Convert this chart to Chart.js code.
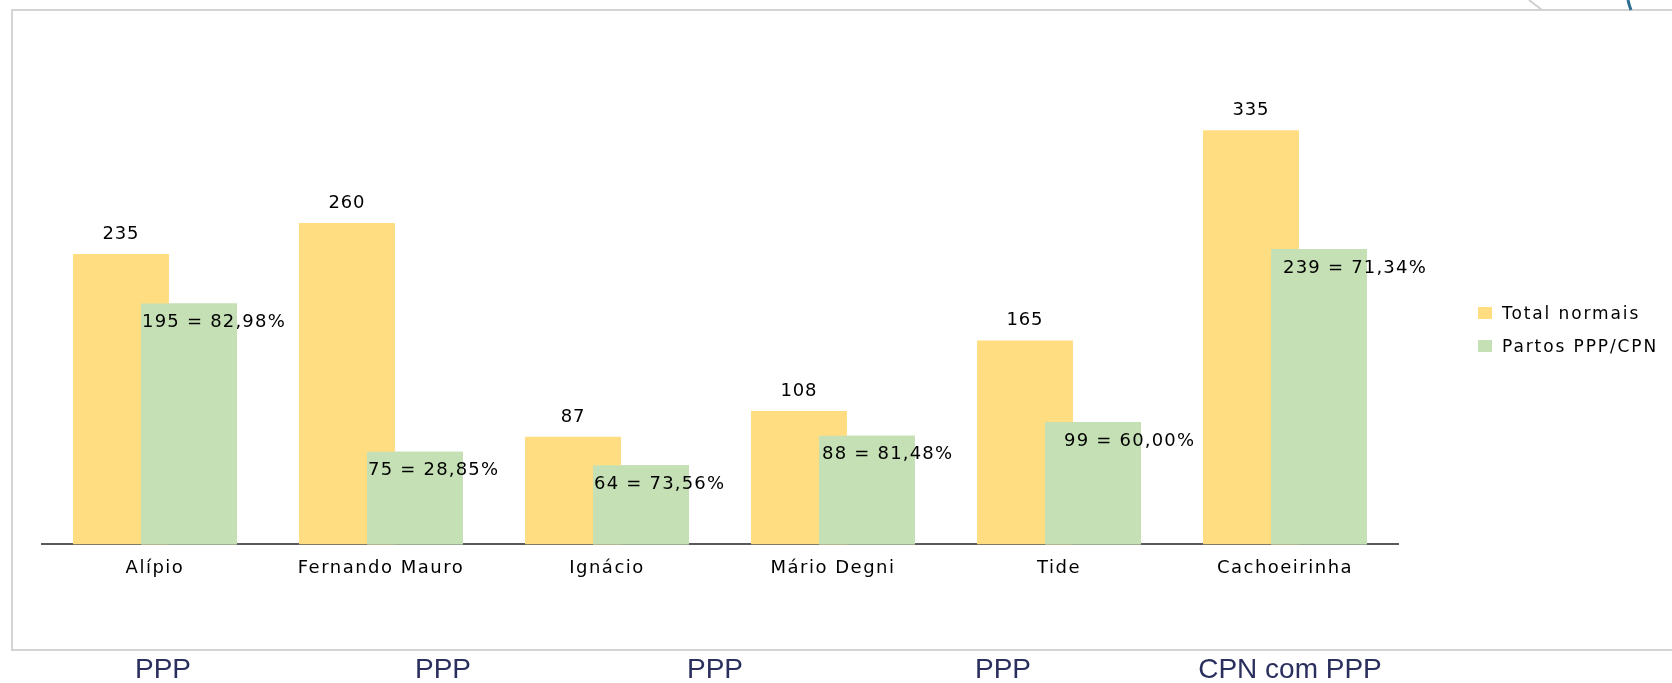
<!DOCTYPE html>
<html>
<head>
<meta charset="utf-8">
<script src="https://cdn.jsdelivr.net/npm/chart.js@4.4.0/dist/chart.umd.min.js"></script>
<style>
body{margin:0;background:#fff;width:1672px;height:683px;overflow:hidden;position:relative;font-family:"DejaVu Sans",sans-serif;}
#box{position:absolute;left:11px;top:9px;width:1700px;height:638px;border:2px solid #d4d4d4;}
#chart{position:absolute;left:0;top:0;}
#deco{position:absolute;left:0;top:0;}
.legend{position:absolute;left:1478px;height:20px;display:flex;align-items:center;font-size:17px;letter-spacing:1.9px;color:#000;white-space:nowrap;}
.legend .sw{display:inline-block;width:14px;height:12px;margin-right:10px;}
.below{position:absolute;top:655px;line-height:28px;font-family:"Liberation Sans",Arial,sans-serif;font-size:28px;color:#2b2f5e;transform:translateX(-50%);white-space:nowrap;}
</style>
</head>
<body>
<div id="box"></div>
<svg id="deco" width="1672" height="20">
  <line x1="1529" y1="0" x2="1542" y2="10" stroke="#cfcfcf" stroke-width="2"/>
  <path d="M1628 0 Q1629 5 1631 10" stroke="#2a6f8f" stroke-width="3" fill="none"/>
</svg>
<canvas id="chart" width="1672" height="683"></canvas>

<div class="legend" style="top:303px"><span class="sw" style="background:#FFDD80"></span>Total normais</div>
<div class="legend" style="top:336px"><span class="sw" style="background:#C5E0B4"></span>Partos PPP/CPN</div>

<div class="below" style="left:163px">PPP</div>
<div class="below" style="left:443px">PPP</div>
<div class="below" style="left:715px">PPP</div>
<div class="below" style="left:1003px">PPP</div>
<div class="below" style="left:1290px">CPN com PPP</div>

<script>
const categories = ["Alípio", "Fernando Mauro", "Ignácio", "Mário Degni", "Tide", "Cachoeirinha"];
const totalNormais = [235, 260, 87, 108, 165, 335];
const partosPPP = [195, 75, 64, 88, 99, 239];
// labels on the green bars were nudged by hand in the original
const greenLabelNudge = [1, 1, 1, 3, 19, 12];

const pct = (i) => (partosPPP[i] / totalNormais[i] * 100).toFixed(2).replace(".", ",") + "%";

const barLabels = {
    id: "barLabels",
    beforeDraw(chart) {
        chart.ctx.letterSpacing = "1.5px";
    },
    afterDatasetsDraw(chart) {
        const ctx = chart.ctx;
        // green bars sit in front of the yellow ones
        chart.getDatasetMeta(1).data.forEach((bar) => bar.draw(ctx));
        ctx.save();
        ctx.font = '18px "DejaVu Sans"';
        ctx.fillStyle = "#000";
        ctx.textBaseline = "middle";
        ctx.letterSpacing = "0.8px";
        ctx.textAlign = "center";
        chart.getDatasetMeta(0).data.forEach((bar, i) => {
            ctx.fillText(String(totalNormais[i]), bar.x, bar.y - 20);
        });
        ctx.textAlign = "left";
        ctx.letterSpacing = "1.2px";
        chart.getDatasetMeta(1).data.forEach((bar, i) => {
            ctx.fillText(partosPPP[i] + " = " + pct(i), bar.x - bar.width / 2 + greenLabelNudge[i], bar.y + 19);
        });
        ctx.restore();
    },
};

new Chart(document.getElementById("chart"), {
    type: "bar",
    data: {
        labels: categories,
        datasets: [
            {
                label: "Total normais",
                data: totalNormais,
                backgroundColor: "#FFDD80",
                categoryPercentage: 0.602,
                barPercentage: 1.41,
            },
            {
                label: "Partos PPP/CPN",
                data: partosPPP,
                backgroundColor: "#C5E0B4",
                categoryPercentage: 0.602,
                barPercentage: 1.41,
            },
        ],
    },
    options: {
        responsive: false,
        animation: false,
        layout: { padding: { left: 42, right: 274, top: 50, bottom: 91 } },
        plugins: {
            legend: { display: false },
            tooltip: { enabled: false },
        },
        scales: {
            x: {
                grid: { display: false, drawTicks: false },
                border: { display: true, color: "#595959", width: 2 },
                ticks: {
                    padding: 13,
                    color: "#000",
                    font: { family: "DejaVu Sans", size: 18 },
                },
            },
            y: {
                display: false,
                min: 0,
                max: 400,
            },
        },
    },
    plugins: [barLabels],
});
</script>
</body>
</html>
